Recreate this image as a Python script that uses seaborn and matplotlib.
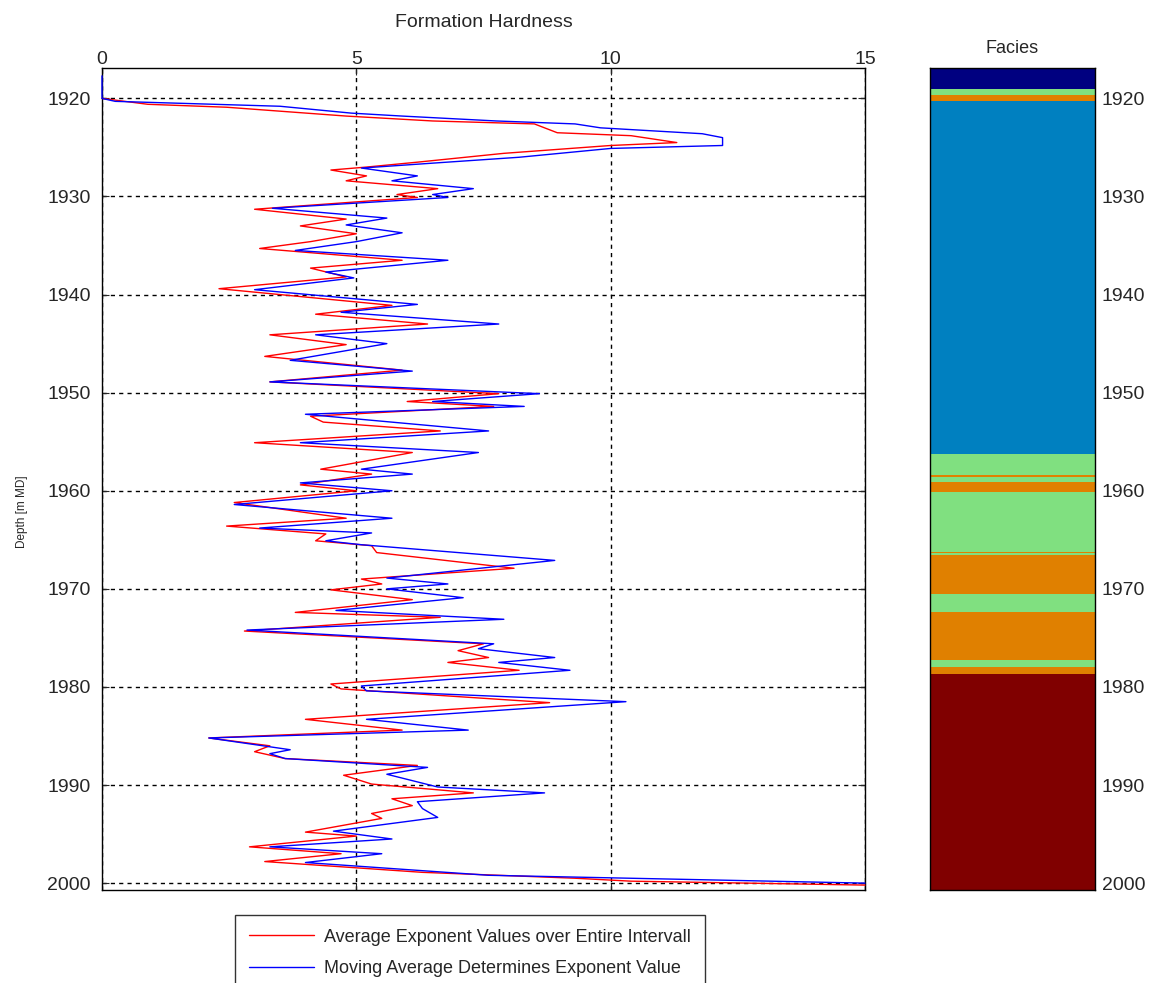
import matplotlib
matplotlib.use("Agg")
import matplotlib.pyplot as plt
import seaborn as sns

# ---------------------------------------------------------------------------
# Data (value = formation hardness, depth in m MD)
# ---------------------------------------------------------------------------
avg_depth = [1920.0, 1920.6, 1920.9, 1921.8, 1922.3, 1922.6, 1923.5, 1923.8, 1924.5,
             1924.8, 1925.6, 1926.5, 1927.0, 1927.3, 1927.9, 1928.4, 1929.2, 1929.8,
             1930.1, 1931.3, 1932.3, 1933.0, 1933.8, 1934.6, 1935.3, 1936.5, 1937.3,
             1938.2, 1939.4, 1941.1, 1942.0, 1943.0, 1944.1, 1945.1, 1946.3, 1947.7,
             1948.9, 1950.1, 1950.9, 1951.4, 1952.4, 1953.0, 1953.9, 1955.1, 1956.1,
             1957.8, 1958.3, 1959.4, 1960.0, 1961.2, 1962.8, 1963.6, 1964.4, 1965.1,
             1965.6, 1966.3, 1967.9, 1969.0, 1969.5, 1970.1, 1971.1, 1972.4, 1972.9,
             1974.3, 1975.6, 1976.3, 1977.0, 1977.5, 1978.3, 1979.7, 1980.2, 1981.6,
             1983.3, 1984.4, 1985.2, 1986.0, 1986.6, 1987.3, 1988.0, 1989.0, 1989.9,
             1990.8, 1991.4, 1992.1, 1992.9, 1993.4, 1994.8, 1995.2, 1996.3, 1997.0,
             1997.8, 1998.9, 1999.5, 1999.8, 2000.2]
avg_value = [0.0, 0.9, 2.45, 4.8, 6.5, 8.5, 8.95, 10.4, 11.3,
             10.0, 7.9, 6.2, 5.2, 4.5, 5.2, 4.8, 6.6, 5.8,
             6.2, 3.0, 4.8, 3.9, 5.0, 4.1, 3.1, 5.9, 4.1,
             4.8, 2.3, 5.7, 4.2, 6.4, 3.3, 4.8, 3.2, 5.9,
             3.3, 7.8, 6.0, 7.7, 4.1, 4.35, 6.65, 3.0, 6.1,
             4.3, 5.3, 3.9, 5.0, 2.6, 4.8, 2.45, 4.4, 4.2,
             5.3, 5.4, 8.1, 5.1, 5.5, 4.5, 6.1, 3.8, 6.65,
             2.8, 7.5, 7.0, 7.6, 6.8, 8.2, 4.5, 4.7, 8.8,
             4.0, 5.9, 2.1, 3.3, 3.0, 3.6, 6.2, 4.75, 5.3,
             7.3, 5.7, 6.1, 5.3, 5.5, 4.0, 5.0, 2.9, 4.7,
             3.2, 6.3, 9.3, 10.4, 15.0]

mov_depth = [1917.7, 1920.0, 1920.3, 1920.8, 1921.5, 1921.8, 1922.3, 1922.6, 1923.0,
             1923.6, 1924.0, 1924.8, 1925.1, 1926.0, 1926.6, 1927.1, 1927.9, 1928.4,
             1929.2, 1929.8, 1930.1, 1931.2, 1932.2, 1932.9, 1933.7, 1934.6, 1935.5,
             1936.5, 1937.7, 1938.3, 1939.5, 1941.0, 1941.8, 1943.0, 1944.1, 1945.0,
             1946.7, 1947.8, 1948.9, 1950.1, 1950.9, 1951.4, 1952.2, 1953.9, 1955.1,
             1956.1, 1957.8, 1958.3, 1959.2, 1960.0, 1961.4, 1962.8, 1963.8, 1964.3,
             1965.1, 1965.5, 1967.1, 1968.9, 1969.5, 1970.0, 1970.9, 1972.2, 1973.1,
             1974.2, 1975.6, 1976.1, 1977.0, 1977.5, 1978.3, 1979.9, 1980.4, 1981.5,
             1983.3, 1984.4, 1985.2, 1986.4, 1986.8, 1987.3, 1988.2, 1988.9, 1990.2,
             1990.8, 1991.7, 1992.4, 1993.3, 1994.7, 1995.5, 1996.3, 1997.0, 1997.9,
             1999.2, 2000.0]
mov_value = [0.0, 0.0, 0.26, 3.5, 4.9, 5.9, 7.75, 9.3, 9.8,
             11.8, 12.2, 12.2, 10.0, 8.2, 6.5, 5.1, 6.2, 5.7,
             7.3, 6.5, 6.8, 3.35, 5.6, 4.8, 5.9, 5.0, 3.8,
             6.8, 4.4, 4.95, 3.0, 6.2, 4.7, 7.8, 4.2, 5.6,
             3.7, 6.1, 3.3, 8.6, 6.5, 8.3, 4.0, 7.6, 3.9,
             7.4, 5.1, 6.1, 3.9, 5.7, 2.6, 5.7, 3.1, 5.3,
             4.4, 5.1, 8.9, 5.6, 6.8, 5.6, 7.1, 4.6, 7.9,
             2.85, 7.7, 7.4, 8.9, 7.8, 9.2, 5.1, 5.2, 10.3,
             5.2, 7.2, 2.1, 3.7, 3.3, 3.6, 6.4, 5.6, 6.6,
             8.7, 6.2, 6.3, 6.6, 4.55, 5.7, 3.3, 5.5, 4.0,
             7.6, 15.0]

# Facies column: interval tops/bases and facies code
facies_top = [1916.8, 1919.0, 1919.7, 1920.25, 1956.3, 1958.4, 1958.55, 1959.15,
              1960.15, 1966.2, 1966.35, 1966.5, 1970.5, 1972.4, 1977.3, 1978.0, 1978.7]
facies_base = [1919.0, 1919.7, 1920.25, 1956.3, 1958.4, 1958.55, 1959.15, 1960.15,
               1966.2, 1966.35, 1966.5, 1970.5, 1972.4, 1977.3, 1978.0, 1978.7, 2000.8]
facies_code = [1, 3, 4, 2, 3, 4, 3, 4, 3, 4, 3, 4, 3, 4, 3, 4, 5]

depth_ticks = [1920, 1930, 1940, 1950, 1960, 1970, 1980, 1990, 2000]
hardness_ticks = [0, 5, 10, 15]

facies_palette = {1: "#000080", 2: "#0080C0", 3: "#80E080", 4: "#E08000", 5: "#800000"}

# ---------------------------------------------------------------------------
# Style
# ---------------------------------------------------------------------------
sns.set_style("ticks")
plt.rcParams["font.family"] = ["Liberation Sans", "DejaVu Sans"]
plt.rcParams["axes.edgecolor"] = "black"
plt.rcParams["axes.linewidth"] = 1.0

W, H = 1154, 983
fig = plt.figure(figsize=(W / 100, H / 100), dpi=100)

ylim = (2000.7, 1916.9)
ax = fig.add_axes([102 / W, 1 - 890 / H, (865 - 102) / W, (890 - 68) / H])
axf = fig.add_axes([930 / W, 1 - 890 / H, (1095 - 930) / W, (890 - 68) / H])

# ---------------------------------------------------------------------------
# Hardness curves
# ---------------------------------------------------------------------------
sns.lineplot(x=avg_value, y=avg_depth, sort=False, estimator=None, color="#FF0000",
             linewidth=1.0, ax=ax, zorder=3,
             label="Average Exponent Values over Entire Intervall")
sns.lineplot(x=mov_value, y=mov_depth, sort=False, estimator=None, color="#0000FF",
             linewidth=1.0, ax=ax, zorder=3,
             label="Moving Average Determines Exponent Value")
for ln in ax.get_lines():
    ln.set_clip_on(False)

ax.set_xlim(0, 15)
ax.set_ylim(*ylim)
ax.set_xticks(hardness_ticks)
ax.set_yticks(depth_ticks)
ax.grid(True, color="black", linestyle=(0, (3, 3)), linewidth=1.0)
ax.tick_params(axis="x", top=True, bottom=True, labeltop=True, labelbottom=False,
               direction="in", length=5, labelsize=14, pad=0)
ax.tick_params(axis="y", left=True, right=True, direction="in", length=5,
               labelsize=14, pad=8)
ax.xaxis.set_label_position("top")
ax.set_xlabel("Formation Hardness", fontsize=14, labelpad=17)
ax.set_ylabel("Depth [m MD]", fontsize=8.5)
ax.yaxis.set_label_coords(-0.097, 0.46)

handles, labels = ax.get_legend_handles_labels()
ax.get_legend().remove()
fig.legend(handles, labels, loc="upper left", bbox_to_anchor=(235 / W, 1 - 915 / H),
           frameon=True, fancybox=False, edgecolor="black", fontsize=13,
           handlelength=3.6, handletextpad=0.6, labelspacing=0.8, borderpad=0.75,
           borderaxespad=0)
fig.legends[0].get_frame().set_linewidth(1.0)

# ---------------------------------------------------------------------------
# Facies column
# ---------------------------------------------------------------------------
for top, base, code in zip(facies_top, facies_base, facies_code):
    axf.barh(y=top, width=1, height=base - top, left=0, align="edge",
             color=facies_palette[code], edgecolor="none")

axf.set_xlim(0, 1)
axf.set_ylim(*ylim)
axf.set_yticks(depth_ticks)
axf.set_xticks([])
axf.yaxis.tick_right()
axf.tick_params(axis="y", left=True, right=True, labelleft=False, labelright=True,
                direction="in", length=5, labelsize=14, pad=5)
axf.set_title("Facies", fontsize=13, pad=11)
for s in axf.spines.values():
    s.set_zorder(5)

fig.savefig("out.png", dpi=100)
